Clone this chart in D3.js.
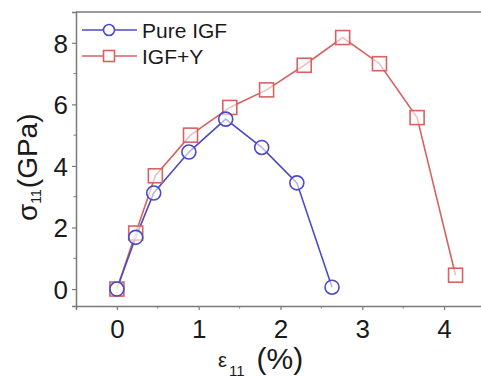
<!DOCTYPE html>
<html>
<head>
<meta charset="utf-8">
<script src="https://cdn.jsdelivr.net/npm/d3@7"></script>
<style>
  html, body { margin: 0; padding: 0; background: #fff; }
  svg { display: block; font-family: "Liberation Sans", Arial, sans-serif; }
</style>
</head>
<body>
<svg id="chart" width="481" height="378"></svg>
<script>
// Strain (%) and stress (GPa) for the two materials
const pureStrain = [0, 0.23, 0.45, 0.88, 1.33, 1.77, 2.2, 2.63];
const pureStress = [0, 1.68, 3.12, 4.45, 5.52, 4.6, 3.45, 0.06];
const yStrain = [0, 0.23, 0.47, 0.9, 1.38, 1.83, 2.29, 2.76, 3.21, 3.67, 4.14];
const yStress = [0, 1.82, 3.68, 5.0, 5.9, 6.47, 7.27, 8.17, 7.32, 5.57, 0.45];
const xTicks = [0, 1, 2, 3, 4];
const yTicks = [0, 2, 4, 6, 8];
const seriesNames = ["Pure IGF", "IGF+Y"];

const svg = d3.select("#chart");
const x = d3.scaleLinear().domain([-0.5, 4.5]).range([76, 485]);
const y = d3.scaleLinear().domain([-0.55, 9.0]).range([306, 12]);

const axisColor = "#7a7a7a";
const blue = "#4a4ac6";
const red = "#d66262";
const ink = "#1a1a1a";

// Frame: top border
svg.append("line")
  .attr("x1", x(-0.5)).attr("x2", 481)
  .attr("y1", y(9.0)).attr("y2", y(9.0))
  .attr("stroke", axisColor).attr("stroke-width", 1.5);

// Axes
const xAxis = d3.axisBottom(x).tickValues(xTicks).tickSize(4).tickFormat(d3.format("d"));
const gx = svg.append("g").attr("transform", `translate(0,${y(-0.55)})`).call(xAxis);
const yAxis = d3.axisLeft(y).tickValues(yTicks).tickSize(4).tickFormat(d3.format("d"));
const gy = svg.append("g").attr("transform", `translate(${x(-0.5)},0)`).call(yAxis);

[gx, gy].forEach(g => {
  g.select(".domain").attr("stroke", axisColor).attr("stroke-width", 1.5);
  g.selectAll(".tick line").attr("stroke", axisColor).attr("stroke-width", 1.2);
  g.selectAll(".tick text").attr("fill", ink)
    .style("font-size", "26px").style("font-family", "Liberation Sans, Arial, sans-serif");
});
gx.selectAll(".tick text").attr("y", 32).attr("dy", 0);
gy.selectAll(".tick text").attr("x", -8).attr("dy", "0.36em");

// Minor ticks
const xMinor = [0.5, 1.5, 2.5, 3.5];
svg.append("g").selectAll("line").data(xMinor).join("line")
  .attr("x1", d => x(d)).attr("x2", d => x(d))
  .attr("y1", y(-0.55)).attr("y2", y(-0.55) + 2.5)
  .attr("stroke", axisColor).attr("stroke-width", 1);
const yMinor = [1, 3, 5, 7];
svg.append("g").selectAll("line").data(yMinor).join("line")
  .attr("x1", x(-0.5)).attr("x2", x(-0.5) - 2.5)
  .attr("y1", d => y(d)).attr("y2", d => y(d))
  .attr("stroke", axisColor).attr("stroke-width", 1);

// Series
const line = d3.line().x(d => x(d[0])).y(d => y(d[1]));
const pureData = d3.zip(pureStrain, pureStress);
const yData = d3.zip(yStrain, yStress);

svg.append("path").datum(yData).attr("d", line)
  .attr("fill", "none").attr("stroke", red).attr("stroke-width", 1.6);
svg.append("path").datum(pureData).attr("d", line)
  .attr("fill", "none").attr("stroke", blue).attr("stroke-width", 1.6);

const sq = 14;
svg.append("g").selectAll("rect").data(yData).join("rect")
  .attr("x", d => x(d[0]) - sq / 2).attr("y", d => y(d[1]) - sq / 2)
  .attr("width", sq).attr("height", sq)
  .attr("fill", "#fff").attr("fill-opacity", 0.6)
  .attr("stroke", red).attr("stroke-width", 1.6);
svg.append("g").selectAll("circle").data(pureData).join("circle")
  .attr("cx", d => x(d[0])).attr("cy", d => y(d[1])).attr("r", 7)
  .attr("fill", "#fff").attr("fill-opacity", 0.6)
  .attr("stroke", blue).attr("stroke-width", 1.6);

// Legend
const legend = svg.append("g");
const legY = [30, 56];
const legSq = 11;
legend.append("line").attr("x1", 82).attr("x2", 137).attr("y1", legY[0]).attr("y2", legY[0])
  .attr("stroke", blue).attr("stroke-width", 1.6);
legend.append("circle").attr("cx", 109).attr("cy", legY[0]).attr("r", 5.5)
  .attr("fill", "#fff").attr("stroke", blue).attr("stroke-width", 1.6);
legend.append("line").attr("x1", 82).attr("x2", 137).attr("y1", legY[1]).attr("y2", legY[1])
  .attr("stroke", red).attr("stroke-width", 1.6);
legend.append("rect").attr("x", 109 - legSq / 2).attr("y", legY[1] - legSq / 2)
  .attr("width", legSq).attr("height", legSq)
  .attr("fill", "#fff").attr("stroke", red).attr("stroke-width", 1.6);
legend.selectAll("text").data(seriesNames).join("text")
  .attr("x", 142).attr("y", (d, i) => legY[i]).attr("dy", "0.36em")
  .style("font-size", "21px").attr("fill", ink)
  .text(d => d);

// Axis titles
const xt = svg.append("text").attr("x", 218).attr("y", 367)
  .attr("fill", ink).style("font-size", "20px");
xt.append("tspan").text("ε");
xt.append("tspan").attr("dy", 9).attr("dx", 2).style("font-size", "15px").text("11");
xt.append("tspan").attr("dy", -7).attr("dx", 12).style("font-size", "30px").text("(%)");

const yt = svg.append("text")
  .attr("transform", `translate(37,221) rotate(-90)`)
  .attr("fill", ink).style("font-size", "28px");
yt.append("tspan").text("σ");
yt.append("tspan").attr("dy", 4).style("font-size", "14px").text("11");
yt.append("tspan").attr("dy", -4).attr("dx", 1).text("(GPa)");
</script>
</body>
</html>
